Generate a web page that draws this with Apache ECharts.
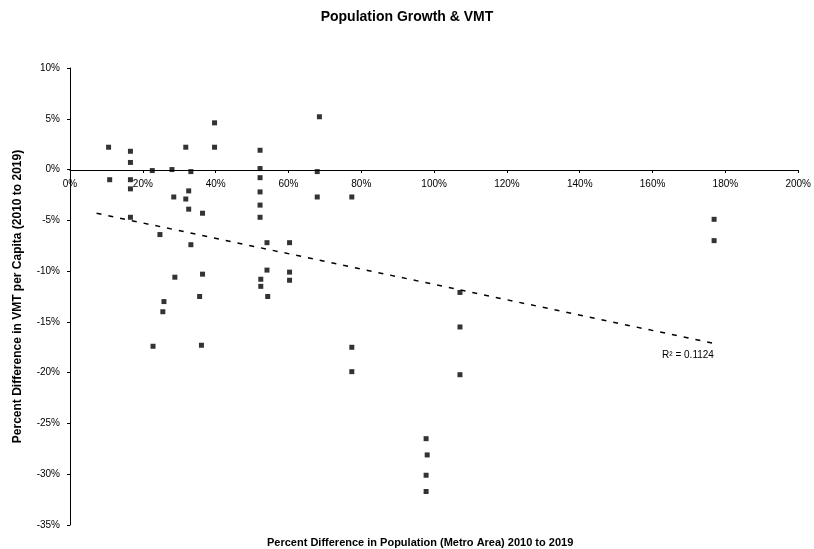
<!DOCTYPE html>
<html>
<head>
<meta charset="utf-8">
<script src="https://cdn.jsdelivr.net/npm/echarts@6/dist/echarts.min.js"></script>
<style>html,body{margin:0;padding:0;background:#fff}#c{width:814px;height:549px}</style>
</head>
<body>
<div id="c"></div>
<script>
// Population growth (%) vs VMT change (%)
const popGrowth = [10.6,16.6,16.6,16.6,16.6,10.9,22.6,28.0,31.8,33.2,39.7,39.7,28.5,32.6,31.8,32.6,36.4,52.2,52.2,52.2,52.2,52.2,52.2,68.5,67.9,67.9,77.4,24.7,33.2,54.1,60.3,54.1,60.3,60.3,52.4,52.4,54.3,28.8,36.4,35.6,25.8,25.5,22.8,36.1,77.4,77.4,107.1,107.1,107.1,97.8,98.1,97.8,97.8,176.9,176.9,16.6];
const vmtChange = [2.2,1.8,0.7,-1.0,-1.9,-1.0,-0.1,0.0,2.2,-0.2,2.2,4.6,-2.7,-2.1,-2.9,-3.9,-4.3,1.9,0.1,-0.8,-2.2,-3.5,-4.7,5.2,-0.2,-2.7,-2.7,-6.4,-7.4,-7.2,-7.2,-9.9,-10.1,-10.9,-10.8,-11.5,-12.5,-10.6,-10.3,-12.5,-13.0,-14.0,-17.4,-17.3,-17.5,-19.9,-12.1,-15.5,-20.2,-26.5,-28.1,-30.1,-31.7,-4.9,-7.0,-4.7];
const trendX = [7.3, 176.6];
const trendY = [-4.3, -17.1];
const trendLabel = 'R² = 0.1124';
const titleText = 'Population Growth & VMT';
const xName = 'Percent Difference in Population (Metro Area) 2010 to 2019';
const yName = 'Percent Difference in VMT per Capita (2010 to 2019)';

const font = 'Liberation Sans, Arial, sans-serif';
const chart = echarts.init(document.getElementById('c'));
chart.setOption({
  animation: false,
  backgroundColor: '#fff',
  textStyle: {fontFamily: font, color: '#000'},
  title: [
    {text: titleText, left: 'center', top: 5, textStyle: {fontSize: 14, fontWeight: 'bold', color: '#000', fontFamily: font}},
    {text: xName, left: 262, top: 532, textStyle: {fontSize: 11, fontWeight: 'bold', color: '#000', fontFamily: font}}
  ],
  grid: {left: 70, right: 8, top: 68, bottom: 24, containLabel: false},
  xAxis: {
    type: 'value', min: 0, max: 200, interval: 20,
    position: 'bottom', offset: -355,
    axisLine: {onZero: false, lineStyle: {color: '#000', width: 1}},
    axisTick: {show: true, length: 3, lineStyle: {color: '#000'}},
    axisLabel: {formatter: '{value}%', color: '#000', fontSize: 10, margin: 9, fontFamily: font},
    splitLine: {show: false}
  },
  yAxis: {
    type: 'value', min: -35, max: 10, interval: 5,
    name: yName, nameLocation: 'middle', nameGap: 46, nameRotate: 90,
    nameTextStyle: {fontSize: 12, fontWeight: 'bold', color: '#000', fontFamily: font},
    axisLine: {show: true, onZero: false, lineStyle: {color: '#000', width: 1}},
    axisTick: {show: true, length: 3, lineStyle: {color: '#000'}},
    axisLabel: {formatter: '{value}%', color: '#000', fontSize: 10, margin: 10, fontFamily: font},
    splitLine: {show: false}
  },
  series: [
    {
      type: 'scatter', symbol: 'rect', symbolSize: 5,
      itemStyle: {color: '#000'},
      data: popGrowth.map((x, i) => [x, vmtChange[i]])
    },
    {
      type: 'line', symbol: 'circle', symbolSize: 0, showSymbol: true,
      lineStyle: {color: '#000', width: 1.5, type: [5, 7]},
      itemStyle: {color: '#000'},
      data: trendX.map((x, i) => i === trendX.length - 1
        ? {value: [x, trendY[i]], label: {show: true, formatter: trendLabel, position: 'bottom', offset: [-25, 2], fontSize: 10, color: '#000', fontFamily: font}}
        : [x, trendY[i]])
    }
  ]
});
</script>
</body>
</html>
